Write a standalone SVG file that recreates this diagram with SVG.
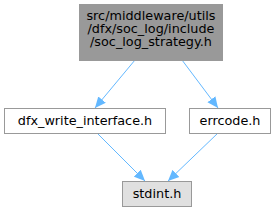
<svg xmlns="http://www.w3.org/2000/svg" width="277" height="212" viewBox="0 0 277 212">
<defs>
<style>
.box{stroke:#999999;stroke-width:1}
.t{font-family:"DejaVu Sans",sans-serif;font-size:12.8px;fill:#000;text-anchor:middle}
.e{stroke:#63b8ff;stroke-width:1;fill:none}
</style>
<marker id="ah" viewBox="0 0 10 10" refX="10" refY="5" markerWidth="11" markerHeight="11" markerUnits="userSpaceOnUse" orient="auto">
<path d="M0,0.5 L10,5 L0,9.5 Z" fill="#63b8ff" stroke="none"/>
</marker>
</defs>
<rect width="277" height="212" fill="#ffffff"/>
<g id="edges">
<path class="e" d="M135,60 L95,108" marker-end="url(#ah)"/>
<path class="e" d="M182,60 L218,108" marker-end="url(#ah)"/>
<path class="e" d="M97,133 L145,181" marker-end="url(#ah)"/>
<path class="e" d="M218,133 L168,181" marker-end="url(#ah)"/>
</g>
<g id="node1">
<rect class="box" x="79.5" y="4.5" width="143" height="56" fill="#999999" stroke="#666666"/>
<text class="t" x="151" y="20">src/middleware/utils</text>
<text class="t" x="151" y="33">/dfx/soc_log/include</text>
<text class="t" x="151" y="46">/soc_log_strategy.h</text>
</g>
<g id="node2">
<rect class="box" x="4.5" y="108.5" width="161" height="25" fill="#ffffff"/>
<text class="t" x="85" y="125">dfx_write_interface.h</text>
</g>
<g id="node3">
<rect class="box" x="189.5" y="108.5" width="81" height="25" fill="#ffffff"/>
<text class="t" x="230" y="125">errcode.h</text>
</g>
<g id="node4">
<rect class="box" x="122.5" y="181.5" width="69" height="25" fill="#e0e0e0"/>
<text class="t" x="157" y="198">stdint.h</text>
</g>
</svg>
